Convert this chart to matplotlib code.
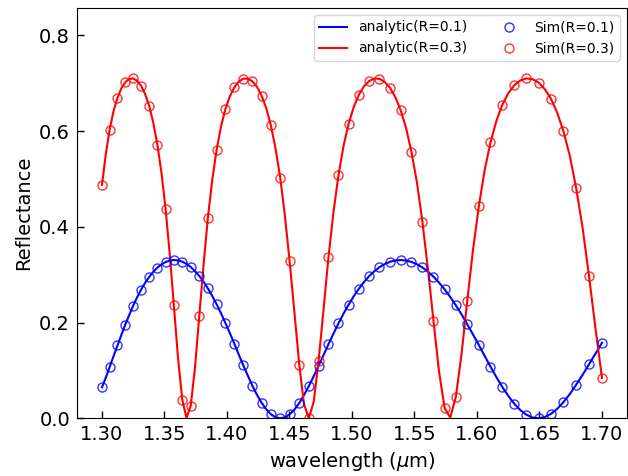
import matplotlib
matplotlib.use("Agg")
import matplotlib.pyplot as plt

# wavelength grid of the analytic curves (um)
lam_line = [
    1.3000, 1.3031, 1.3061, 1.3092, 1.3124, 1.3155, 1.3186, 1.3218, 1.3249, 1.3281,
    1.3313, 1.3345, 1.3378, 1.3410, 1.3443, 1.3476, 1.3509, 1.3542, 1.3575, 1.3608,
    1.3642, 1.3676, 1.3710, 1.3744, 1.3778, 1.3813, 1.3847, 1.3882, 1.3917, 1.3952,
    1.3987, 1.4023, 1.4059, 1.4094, 1.4130, 1.4167, 1.4203, 1.4240, 1.4277, 1.4314,
    1.4351, 1.4388, 1.4426, 1.4463, 1.4501, 1.4540, 1.4578, 1.4616, 1.4655, 1.4694,
    1.4733, 1.4773, 1.4812, 1.4852, 1.4892, 1.4932, 1.4973, 1.5014, 1.5055, 1.5096,
    1.5137, 1.5179, 1.5220, 1.5262, 1.5305, 1.5347, 1.5390, 1.5433, 1.5476, 1.5520,
    1.5563, 1.5607, 1.5652, 1.5696, 1.5741, 1.5786, 1.5831, 1.5877, 1.5922, 1.5968,
    1.6015, 1.6061, 1.6108, 1.6155, 1.6202, 1.6250, 1.6298, 1.6346, 1.6395, 1.6444,
    1.6493, 1.6542, 1.6592, 1.6642, 1.6692, 1.6743, 1.6793, 1.6845, 1.6896, 1.6948,
    1.7000,
]

analytic_r01 = [
    0.0649, 0.0854, 0.1071, 0.1295, 0.1521, 0.1742, 0.1956, 0.2160, 0.2351, 0.2527,
    0.2688, 0.2830, 0.2954, 0.3060, 0.3147, 0.3215, 0.3264, 0.3294, 0.3306, 0.3298,
    0.3271, 0.3225, 0.3160, 0.3075, 0.2972, 0.2852, 0.2712, 0.2555, 0.2381, 0.2193,
    0.1991, 0.1778, 0.1557, 0.1332, 0.1108, 0.0889, 0.0681, 0.0491, 0.0325, 0.0188,
    0.0085, 0.0022, 0.0000, 0.0020, 0.0082, 0.0183, 0.0319, 0.0485, 0.0674, 0.0881,
    0.1100, 0.1324, 0.1549, 0.1770, 0.1983, 0.2186, 0.2374, 0.2549, 0.2706, 0.2847,
    0.2969, 0.3072, 0.3157, 0.3223, 0.3270, 0.3297, 0.3306, 0.3295, 0.3266, 0.3218,
    0.3150, 0.3064, 0.2958, 0.2835, 0.2693, 0.2533, 0.2358, 0.2168, 0.1964, 0.1750,
    0.1528, 0.1303, 0.1079, 0.0861, 0.0656, 0.0468, 0.0305, 0.0172, 0.0075, 0.0017,
    0.0000, 0.0026, 0.0093, 0.0199, 0.0339, 0.0508, 0.0700, 0.0908, 0.1128, 0.1352,
    0.1577,
]

analytic_r03 = [
    0.4876, 0.5527, 0.6031, 0.6412, 0.6693, 0.6892, 0.7020, 0.7088, 0.7098, 0.7051,
    0.6944, 0.6771, 0.6520, 0.6176, 0.5718, 0.5122, 0.4362, 0.3430, 0.2358, 0.1267,
    0.0389, 0.0004, 0.0262, 0.1062, 0.2132, 0.3220, 0.4185, 0.4981, 0.5609, 0.6093,
    0.6458, 0.6726, 0.6914, 0.7034, 0.7093, 0.7094, 0.7039, 0.6923, 0.6739, 0.6476,
    0.6117, 0.5641, 0.5022, 0.4237, 0.3281, 0.2197, 0.1120, 0.0297, 0.0001, 0.0350,
    0.1207, 0.2293, 0.3370, 0.4312, 0.5082, 0.5687, 0.6153, 0.6503, 0.6758, 0.6936,
    0.7046, 0.7096, 0.7090, 0.7026, 0.6901, 0.6707, 0.6431, 0.6056, 0.5561, 0.4919,
    0.4109, 0.3129, 0.2035, 0.0978, 0.0215, 0.0012, 0.0449, 0.1357, 0.2454, 0.3517,
    0.4434, 0.5179, 0.5763, 0.6210, 0.6545, 0.6789, 0.6956, 0.7057, 0.7099, 0.7084,
    0.7012, 0.6877, 0.6672, 0.6383, 0.5992, 0.5477, 0.4812, 0.3976, 0.2975, 0.1874,
    0.0842,
]

# simulated spectra (51 frequencies)
lam_sim = [
    1.3000, 1.3061, 1.3124, 1.3186, 1.3249, 1.3313, 1.3378, 1.3443, 1.3509, 1.3575,
    1.3642, 1.3710, 1.3778, 1.3847, 1.3917, 1.3987, 1.4059, 1.4130, 1.4203, 1.4277,
    1.4351, 1.4426, 1.4501, 1.4578, 1.4655, 1.4733, 1.4812, 1.4892, 1.4973, 1.5055,
    1.5137, 1.5220, 1.5305, 1.5390, 1.5476, 1.5563, 1.5652, 1.5741, 1.5831, 1.5922,
    1.6015, 1.6108, 1.6202, 1.6298, 1.6395, 1.6493, 1.6592, 1.6692, 1.6793, 1.6896,
    1.7000,
]

sim_r01 = [
    0.0649, 0.1071, 0.1521, 0.1956, 0.2351, 0.2688, 0.2954, 0.3147, 0.3264, 0.3306,
    0.3271, 0.3160, 0.2972, 0.2712, 0.2381, 0.1991, 0.1557, 0.1108, 0.0681, 0.0325,
    0.0085, 0.0000, 0.0082, 0.0319, 0.0674, 0.1100, 0.1549, 0.1983, 0.2374, 0.2706,
    0.2969, 0.3157, 0.3270, 0.3306, 0.3266, 0.3150, 0.2958, 0.2693, 0.2358, 0.1964,
    0.1528, 0.1079, 0.0656, 0.0305, 0.0075, 0.0000, 0.0093, 0.0339, 0.0700, 0.1128,
    0.1577,
]

sim_r03 = [
    0.4876, 0.6031, 0.6693, 0.7020, 0.7098, 0.6944, 0.6520, 0.5718, 0.4362, 0.2358,
    0.0389, 0.0262, 0.2132, 0.4185, 0.5609, 0.6458, 0.6914, 0.7093, 0.7039, 0.6739,
    0.6117, 0.5022, 0.3281, 0.1120, 0.0001, 0.1207, 0.3370, 0.5082, 0.6153, 0.6758,
    0.7046, 0.7090, 0.6901, 0.6431, 0.5561, 0.4109, 0.2035, 0.0215, 0.0449, 0.2454,
    0.4434, 0.5763, 0.6545, 0.6956, 0.7099, 0.7012, 0.6672, 0.5992, 0.4812, 0.2975,
    0.0842,
]

xticks = [1.30, 1.35, 1.40, 1.45, 1.50, 1.55, 1.60, 1.65, 1.70]
yticks = [0.0, 0.2, 0.4, 0.6, 0.8]

fig = plt.figure(figsize=(6.28, 4.76), dpi=100)
ax = fig.add_axes([77 / 628, 1 - 418.3 / 476, (627 - 77) / 628, (418.3 - 8) / 476])

ax.plot(lam_line, analytic_r01, color="b", lw=1.5, label="analytic(R=0.1)")
ax.plot(lam_line, analytic_r03, color="r", lw=1.5, label="analytic(R=0.3)")
ax.plot(lam_sim, sim_r01, "o", ms=6.5, mfc="none", mec="b", mew=1.0, alpha=0.8,
        label="Sim(R=0.1)")
ax.plot(lam_sim, sim_r03, "o", ms=6.5, mfc="none", mec="r", mew=1.0, alpha=0.8,
        label="Sim(R=0.3)")

ax.set_xlim(1.28, 1.72)
ax.set_ylim(0, 0.857)
ax.set_xticks(xticks)
ax.set_xticklabels([f"{t:.2f}" for t in xticks])
ax.set_yticks(yticks)
ax.set_yticklabels([f"{t:.1f}" for t in yticks])
ax.tick_params(direction="in", labelsize=14, length=4.7, width=1.0, pad=5)

ax.set_xlabel(r"wavelength ($\mu$m)", fontsize=14)
ax.set_ylabel("Reflectance", fontsize=14)

ax.legend(loc="upper right", ncol=2, fontsize=10)

fig.savefig("out.png", dpi=100)
